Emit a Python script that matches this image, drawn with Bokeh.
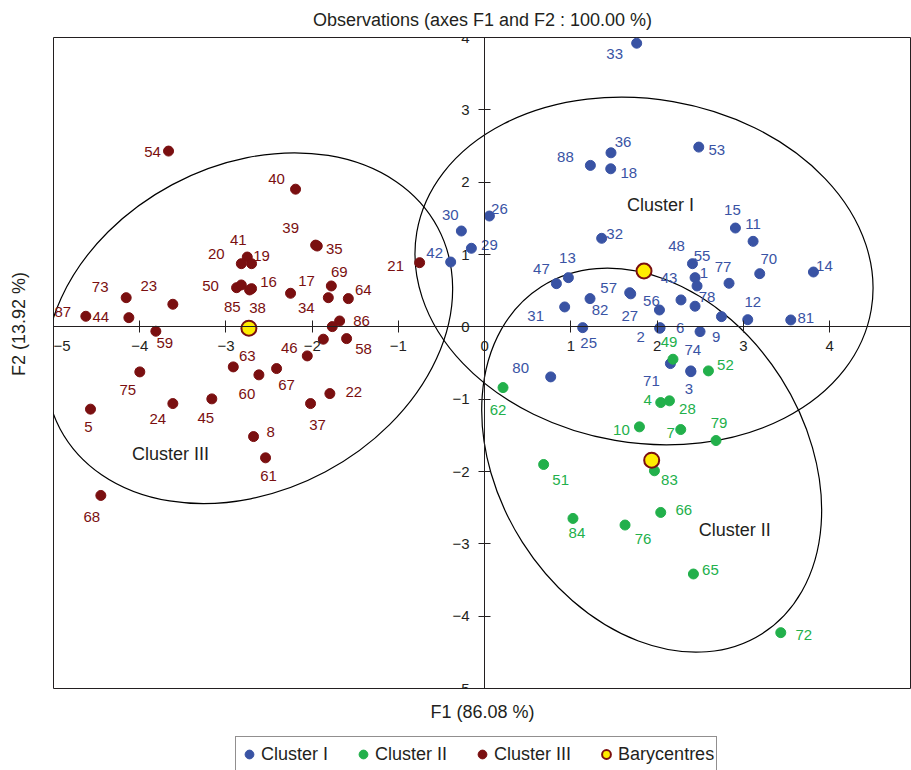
import math
from bokeh.plotting import figure
from bokeh.layouts import column, row
from bokeh.models import (ColumnDataSource, FixedTicker, Title, Legend, LegendItem)
from bokeh.core.properties import value
from bokeh.embed import file_html
from bokeh.resources import INLINE

FONT = "Liberation Sans"

# ---------------- data ----------------
# Cluster I
c1_lab = ["33", "36", "88", "18", "53", "26", "30", "29", "42", "32", "15", "11", "48", "55", "1",
          "43", "78", "56", "57", "27", "77", "70", "14", "81", "12", "", "9", "6", "2", "13",
          "47", "82", "31", "25", "80", "71", "74", "3"]
c1_x = [1.763, 1.465, 1.226, 1.462, 2.483, 0.055, -0.270, -0.154, -0.394, 1.357, 2.908, 3.113, 2.410, 2.440, 2.463,
        2.277, 2.440, 2.027, 1.682, 1.694, 2.834, 3.190, 3.813, 3.550, 3.051, 2.746, 2.498, 2.034, 2.030, 0.971,
        0.832, 1.222, 0.928, 1.137, 0.766, 2.154, 2.390, 2.392]
c1_y = [3.921, 2.406, 2.232, 2.185, 2.485, 1.532, 1.325, 1.086, 0.896, 1.224, 1.366, 1.182, 0.873, 0.680, 0.565,
        0.372, 0.285, 0.233, 0.472, 0.456, 0.602, 0.735, 0.758, 0.095, 0.099, 0.141, -0.066, -0.011, -0.020, 0.680,
        0.597, 0.390, 0.275, -0.011, -0.692, -0.508, -0.609, -0.620]
c1_dx = [-22, 12, -25, 18, 18, 10, -11, 18, -16, 13, -3, 0, -16, 7, 7,
         -12, 12, -8, -21, -1, -6, 9, 11, 15, 5, 0, 16, 20, -19, -1,
         -15, 10, -29, 6, -30, -19, 2, -2]
c1_dy = [11, -11, -8, 4, 3, -7, -16, -3, -9, -4, -18, -17, -18, -22, -13,
         -22, -9, -9, -5, 22, -16, -15, -6, -2, -18, 0, 5, 0, 9, -20,
         -15, 11, 9, 15, -9, 17, -21, 17]

# Cluster II
c2_lab = ["49", "52", "62", "4", "28", "10", "7", "79", "51", "83", "66", "84", "76", "65", "72"]
c2_x = [2.184, 2.595, 0.213, 2.042, 2.143, 1.795, 2.274, 2.683, 0.684, 1.969, 2.042, 1.024, 1.628, 2.421, 3.434]
c2_y = [-0.448, -0.609, -0.840, -1.047, -1.023, -1.383, -1.420, -1.572, -1.903, -1.990, -2.566, -2.649, -2.740,
        -3.417, -4.228]
c2_dx = [-4, 17, -5, -13, 18, -18, -10, 3, 17, 15, 23, 4, 18, 17, 23]
c2_dy = [-17, -6, 22, -3, 8, 3, 3, -18, 16, 9, -2, 15, 14, -4, 2]

# Cluster III
c3_lab = ["54", "40", "35", "39", "41", "20", "19", "50", "85", "16", "38", "17", "34", "69", "64",
          "21", "86", "", "58", "", "46", "63", "60", "67", "22", "37", "8", "61", "45", "24",
          "75", "5", "68", "73", "23", "87", "44", "59"]
c3_x = [-3.666, -2.193, -1.941, -1.960, -2.753, -2.822, -2.703, -2.877, -2.822, -2.703, -2.726, -2.251, -1.813,
        -1.778, -1.581, -0.754, -1.682, -1.767, -1.601, -1.871, -2.057, -2.915, -2.618, -2.413, -1.795, -2.019,
        -2.680, -2.541, -3.164, -3.616, -3.999, -4.571, -4.451, -4.157, -3.616, -4.625, -4.126, -3.813]
c3_y = [2.430, 1.903, 1.117, 1.130, 0.965, 0.873, 0.873, 0.541, 0.579, 0.528, 0.510, 0.464, 0.403,
        0.565, 0.390, 0.887, 0.081, 0.003, -0.163, -0.171, -0.402, -0.554, -0.664, -0.577, -0.923, -1.061,
        -1.517, -1.811, -0.996, -1.061, -0.623, -1.138, -2.331, 0.403, 0.312, 0.146, 0.127, -0.061]
c3_dx = [-16, -19, 17, -25, -9, -25, 10, -26, -9, 17, 8, 16, -22, 8, 15,
         -24, 22, 0, 17, 0, -18, 14, -12, 10, 24, 7, 17, 3, -6, -15,
         -12, -2, -9, -26, -24, -23, -28, 9]
c3_dy = [1, -10, 3, -17, -17, -10, -8, -2, 22, -7, 18, -12, 10, -14, -9,
         3, 0, 0, 10, 0, -8, -11, 19, 16, -2, 21, -5, 18, 19, 15,
         18, 18, 22, -11, -18, -4, -1, 12]

# Barycentres and cluster ellipses
bary_x = [1.848, 1.937, -2.734]
bary_y = [0.772, -1.843, -0.019]
ell_w = [5.346, 4.770, 4.963]
ell_h = [4.754, 4.235, 4.500]
ell_angle = [-0.169, -1.004, 0.490]

cluster_names = ["Cluster I", "Cluster II", "Cluster III"]
cluster_text_x = [2.04, 2.90, -3.643]
cluster_text_y = [1.684, -2.805, -1.755]

x_ticks = [-5, -4, -3, -2, -1, 0, 1, 2, 3, 4, 5]
x_tick_labels = ["\u22125", "\u22124", "\u22123", "\u22122", "\u22121", "0", "1", "2", "3", "4", "5"]
y_ticks = [-5, -4, -3, -2, -1, 0, 1, 2, 3, 4]
y_tick_labels = ["\u22125", "\u22124", "\u22123", "\u22122", "\u22121", "0", "1", "2", "3", "4"]

title_text = "Observations (axes F1 and F2 : 100.00 %)"
x_title = "F1 (86.08 %)"
y_title = "F2 (13.92 %)"
legend_labels = ["Cluster I", "Cluster II", "Cluster III", "Barycentres"]

# ---------------- styles ----------------
COL1 = "#3953A4"
COL2 = "#22B04B"
COL3 = "#7A0F10"
TXT = "#231F20"
BARY = "#FFED00"

FRAME_W, FRAME_H = 858, 651
TOP, BOTTOM, LEFT = 37, 48, 53

p = figure(frame_width=FRAME_W, frame_height=FRAME_H, x_range=(-5, 4.95), y_range=(-5, 4),
           output_backend="svg", toolbar_location=None,
           min_border_left=0, min_border_right=0, min_border_top=TOP, min_border_bottom=BOTTOM)
p.background_fill_color = "white"
p.border_fill_color = "white"
p.outline_line_color = TXT
p.outline_line_width = 1
p.xgrid.visible = False
p.ygrid.visible = False

p.title.text = title_text
p.title.align = "center"
p.title.vertical_align = "top"
p.title.text_font = FONT
p.title.text_font_size = "18px"
p.title.text_font_style = "normal"
p.title.text_color = TXT
p.title.standoff = 12

for ax, ticks, labels in ((p.xaxis[0], x_ticks, x_tick_labels), (p.yaxis[0], y_ticks, y_tick_labels)):
    ax.fixed_location = 0
    ax.ticker = FixedTicker(ticks=ticks)
    ax.major_label_overrides = {t: l for t, l in zip(ticks, labels)}
    ax.major_tick_in = 6
    ax.major_tick_out = 6
    ax.minor_tick_line_color = None
    ax.axis_line_color = TXT
    ax.major_tick_line_color = TXT
    ax.major_label_text_font = FONT
    ax.major_label_text_font_size = "15px"
    ax.major_label_text_color = TXT
p.xaxis[0].major_label_standoff = 8
p.yaxis[0].major_label_standoff = 9

# ellipses
ell_src = ColumnDataSource(dict(x=bary_x, y=bary_y, w=ell_w, h=ell_h, a=ell_angle))
p.ellipse(x="x", y="y", width="w", height="h", angle="a", source=ell_src,
          fill_color=None, line_color="black", line_width=1.2)

# cluster names
p.text(x=cluster_text_x, y=cluster_text_y, text=cluster_names, text_font=value(FONT),
       text_font_size="18px", text_color=TXT, text_align="center", text_baseline="middle")

for xs, ys, labs, dxs, dys, col in ((c1_x, c1_y, c1_lab, c1_dx, c1_dy, COL1),
                                   (c2_x, c2_y, c2_lab, c2_dx, c2_dy, COL2),
                                   (c3_x, c3_y, c3_lab, c3_dx, c3_dy, COL3)):
    src = ColumnDataSource(dict(x=xs, y=ys, lab=labs, dx=dxs, dy=dys))
    p.scatter(x="x", y="y", source=src, size=10, marker="circle",
              fill_color=col, line_color=col, line_width=1)
    p.text(x="x", y="y", text="lab", x_offset="dx", y_offset="dy", source=src,
           text_font=value(FONT), text_font_size="15px", text_color=col,
           text_align="center", text_baseline="middle")

p.scatter(x=bary_x, y=bary_y, size=15, marker="circle",
          fill_color=BARY, line_color=COL3, line_width=2)

# x axis title
xt = Title(text=x_title, align="center", vertical_align="middle", text_font=FONT,
           text_font_size="18px", text_font_style="normal", text_color=TXT, standoff=25)
p.add_layout(xt, "below")

# y axis title in a narrow strip sharing the y range
py = figure(frame_width=LEFT, frame_height=FRAME_H, x_range=(0, LEFT), y_range=p.y_range,
            output_backend="svg", toolbar_location=None,
            x_axis_location=None, y_axis_location=None,
            min_border_left=0, min_border_right=0, min_border_top=TOP, min_border_bottom=BOTTOM)
py.outline_line_color = None
py.xgrid.visible = False
py.ygrid.visible = False
py.text(x=[18], y=[0.04], text=[y_title], angle=math.pi / 2, text_font=value(FONT),
        text_font_size="18px", text_color=TXT, text_align="center", text_baseline="middle")

# legend strip (legend-only renderers carry no visible data)
LEG_H = 770 - (TOP + FRAME_H + BOTTOM)
pl = figure(frame_width=LEFT + FRAME_W, frame_height=LEG_H, x_range=(0, 1), y_range=(0, 1),
            output_backend="svg", toolbar_location=None,
            x_axis_location=None, y_axis_location=None,
            min_border_left=0, min_border_right=0, min_border_top=0, min_border_bottom=0)
pl.outline_line_color = None
pl.xgrid.visible = False
pl.ygrid.visible = False
nan = float("nan")
leg_rs = [pl.scatter(x=[nan], y=[nan], size=10, marker="circle", fill_color=c, line_color=c)
          for c in (COL1, COL2, COL3)]
leg_rs.append(pl.scatter(x=[nan], y=[nan], size=15, marker="circle", fill_color=BARY,
                         line_color=COL3, line_width=2))
legend = Legend(items=[LegendItem(label=n, renderers=[r]) for n, r in zip(legend_labels, leg_rs)],
                orientation="horizontal", location=(235, -2),
                label_text_font=FONT, label_text_font_size="18px", label_text_color=TXT,
                glyph_width=22, glyph_height=30, label_standoff=1, spacing=24, padding=2,
                margin=0, border_line_color=TXT, border_line_width=1,
                background_fill_color="white", background_fill_alpha=1)
pl.add_layout(legend, "center")

layout = column(row(py, p), pl)
open("out.html", "w").write(file_html(layout, INLINE))
